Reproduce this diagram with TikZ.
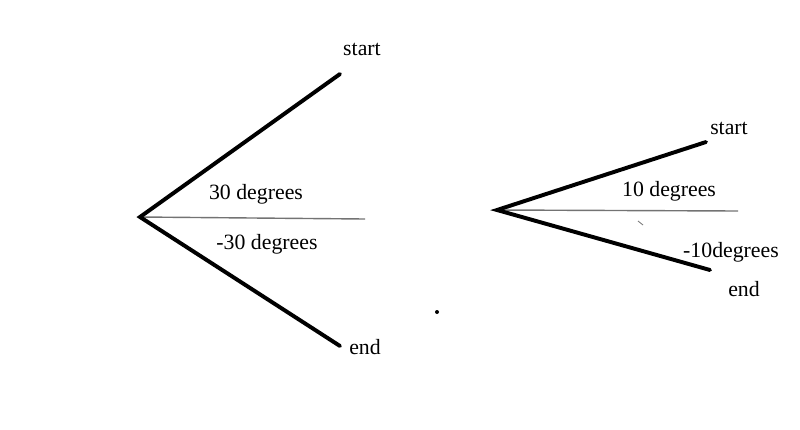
\documentclass[tikz,border=0pt]{standalone}
\usepackage{fontspec}
\setmainfont{Liberation Serif}
\usetikzlibrary{positioning}

\begin{document}
\begin{tikzpicture}[
    x=0.025cm, y=-0.025cm,
    ray/.style={line width=2.8pt, line cap=round},
    axis/.style={line width=1pt, black!55},
    lbl/.style={font=\fontsize{15.5}{18}\selectfont, inner sep=0pt}
  ]
    \useasboundingbox (0,0) rectangle (800,429);

    % left: +30 / -30
    \coordinate (V1) at (140,217);
    \coordinate (S1) at (340,74);
    \coordinate (E1) at (340,346);
    \coordinate (H1) at (365,219);
    \draw[axis] (V1) -- (H1);
    \draw[ray] (S1) -- (V1) -- (E1);
    \node[lbl] (start1) at (362,49) {start};
    \node[lbl] (end1) at (365,347) {end};
    \node[lbl] (pos30) at (256,194) {30 degrees};
    \node[lbl] (neg30) at (267,244) {-30 degrees};

    % right: +10 / -10
    \coordinate (V2) at (497,210);
    \coordinate (S2) at (706,142);
    \coordinate (E2) at (710,270);
    \coordinate (H2) at (738,211);
    \draw[axis] (V2) -- (H2);
    \draw[ray] (S2) -- (V2) -- (E2);
    \node[lbl] (start2) at (729,128) {start};
    \node[lbl] (end2) at (744,289) {end};
    \node[lbl] (pos10) at (669,191) {10 degrees};
    \node[lbl] (neg10) at (731,252) {-10degrees};

    \coordinate (T1) at (638,221);
    \coordinate (T2) at (643,225);
    \draw[axis, line width=0.6pt] (T1) -- (T2);
    \fill (437,312) circle (2);
\end{tikzpicture}
\end{document}
